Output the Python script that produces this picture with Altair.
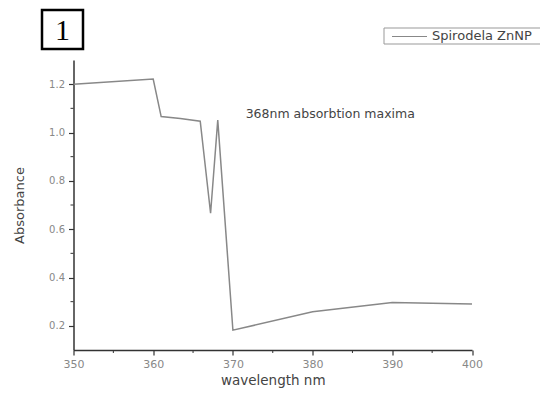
import altair as alt
import pandas as pd

wavelength = [350, 360, 361, 363.4, 365.9, 367.2, 368.1, 370, 380, 390, 400]
absorbance = [1.20, 1.221, 1.066, 1.058, 1.047, 0.666, 1.051, 0.182, 0.258, 0.297, 0.29]
series_name = "Spirodela ZnNP"
annotation_text = "368nm absorbtion maxima"
annotation_x = [371.6]
annotation_y = [1.075]
panel_label = "1"
x_ticks = [350, 360, 370, 380, 390, 400]
y_ticks = [0.2, 0.4, 0.6, 0.8, 1.0, 1.2]
x_minor = [355, 365, 375, 385, 395]
y_minor = [0.3, 0.5, 0.7, 0.9, 1.1]

df = pd.DataFrame({"wavelength": wavelength, "absorbance": absorbance})
ann = pd.DataFrame({"x": annotation_x, "y": annotation_y, "t": [annotation_text]})
leg = pd.DataFrame({"t": [series_name]})

xscale = alt.Scale(domain=[350, 400], nice=False, zero=False)
yscale = alt.Scale(domain=[0.1, 1.3], nice=False, zero=False)
AX = "#333333"
LINE = "#888888"
FONT = "DejaVu Sans"

line = alt.Chart(df).mark_line(strokeWidth=1.5, color=LINE).encode(
    x=alt.X("wavelength:Q", scale=xscale,
            axis=alt.Axis(title="wavelength nm", values=x_ticks, format="d", grid=False,
                          labelFlush=False,
                          titleFont=FONT, titleFontSize=13.5, titleFontWeight="normal",
                          titleColor="#444444", titlePadding=4,
                          labelFont=FONT, labelFontSize=11, labelColor="#888888",
                          domainColor=AX, domainWidth=1.5, tickColor=AX, tickWidth=1.2,
                          tickSize=5, labelPadding=3)),
    y=alt.Y("absorbance:Q", scale=yscale,
            axis=alt.Axis(title="Absorbance", values=y_ticks, format=".1f", grid=False,
                          labelFlush=False,
                          titleFont=FONT, titleFontSize=13, titleFontWeight="normal",
                          titleColor="#444444", titlePadding=22,
                          labelFont=FONT, labelFontSize=10, labelColor="#888888",
                          domainColor=AX, domainWidth=1.5, tickColor=AX, tickWidth=1.2,
                          tickSize=5, labelPadding=4)),
)

mx = alt.Chart(pd.DataFrame({"v": x_minor})).mark_rule(color=AX).encode(
    x=alt.X("v:Q", scale=xscale), y=alt.value(290), y2=alt.value(293))
my = alt.Chart(pd.DataFrame({"v": y_minor})).mark_rule(color=AX).encode(
    y=alt.Y("v:Q", scale=yscale), x=alt.value(0), x2=alt.value(-3))

text = alt.Chart(ann).mark_text(align="left", baseline="middle", font=FONT,
                                fontSize=12.5, color="#444444").encode(
    x=alt.X("x:Q", scale=xscale), y=alt.Y("y:Q", scale=yscale), text="t:N")

# legend (box, sample line, label)
leg_box = alt.Chart(leg).mark_rect(fill="white", stroke="#999999", strokeWidth=1).encode(
    x=alt.value(310.5), x2=alt.value(480), y=alt.value(-32), y2=alt.value(-16))
leg_line = alt.Chart(leg).mark_rule(color=LINE, strokeWidth=1.2).encode(
    x=alt.value(318.5), x2=alt.value(353.5), y=alt.value(-23.5))
leg_text = alt.Chart(leg).mark_text(align="left", baseline="middle", font=FONT,
                                    fontSize=13, color="#444444").encode(
    x=alt.value(358.5), y=alt.value(-24), text="t:N")

pl = pd.DataFrame({"t": [panel_label]})
box = alt.Chart(pl).mark_rect(fill="white", stroke="black", strokeWidth=2.5).encode(
    x=alt.value(-31.5), x2=alt.value(9.5), y=alt.value(-50), y2=alt.value(-11))
num = alt.Chart(pl).mark_text(font="Liberation Serif", fontSize=30, align="center",
                              baseline="middle", color="black").encode(
    x=alt.value(-11), y=alt.value(-29), text="t:N")

chart = alt.layer(line, mx, my, text, leg_box, leg_line, leg_text, box, num).properties(
    width=398.5, height=290,
    background="white",
    autosize=alt.AutoSizeParams(type="none"),
    padding={"left": 65.5, "top": 52, "right": 68, "bottom": 38},
).configure_view(stroke=None, strokeWidth=0)

chart.save("out.html", embed_options={"renderer": "svg", "actions": False})
